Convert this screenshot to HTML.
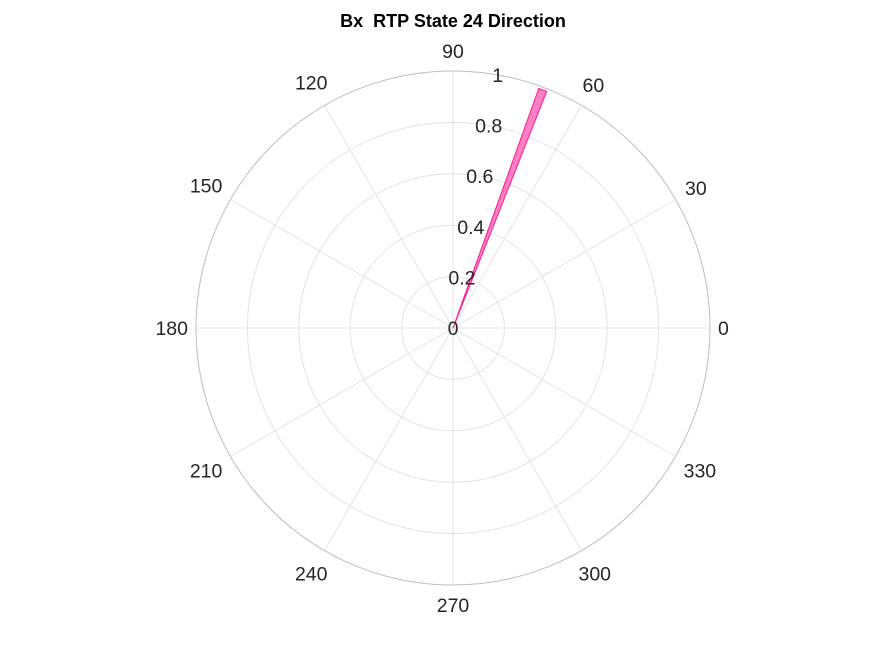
<!DOCTYPE html>
<html><head><meta charset="utf-8"><style>
body{margin:0;background:#fff;font-family:"Liberation Sans",Arial,sans-serif}
svg text{font-family:"Liberation Sans",Arial,sans-serif}
</style></head><body>
<svg id="chart" width="875" height="656" xmlns="http://www.w3.org/2000/svg">
<rect width="875" height="656" fill="#fff"/>
<text x="453" y="27" text-anchor="middle" font-size="18" font-weight="bold" fill="#000">Bx&#160; RTP State 24 Direction</text>
<g id="grid"></g><g id="bars"></g><g id="labels"></g>
</svg>
<script>
const angleTicks=[0,30,60,90,120,150,180,210,240,270,300,330];
const radialTicks=[0,0.2,0.4,0.6,0.8,1];
const binEdgesStart=[68.4];
const binEdgesEnd=[70.3];
const binValues=[0.99];
const cx=453,cy=328,R=257,rMax=1,FS=19.5;
const ns="http://www.w3.org/2000/svg";
function rs(v){return v/rMax*R;}
function pt(v,deg){const a=deg*Math.PI/180;return [cx+rs(v)*Math.cos(a),cy-rs(v)*Math.sin(a)];}
function mk(tag,attrs,parent){const e=document.createElementNS(ns,tag);for(const k in attrs)e.setAttribute(k,attrs[k]);parent.appendChild(e);return e;}
const grid=document.getElementById('grid'),bars=document.getElementById('bars'),labels=document.getElementById('labels');
radialTicks.forEach(v=>{if(v===0)return;
 const c=mk('circle',{cx:cx,cy:cy,r:rs(v),fill:'none',stroke:v===rMax?'#bdbdbd':'#e3e3e3','stroke-width':1},grid);
 
 
});
angleTicks.forEach(d=>{const p=pt(rMax,d);
 const l=mk('line',{x1:cx,y1:cy,x2:p[0],y2:p[1],stroke:'#e3e3e3','stroke-width':1},grid);
 
 
 const a=d*Math.PI/180;
 const w=String(d).length*0.556*FS;
 const off=R+8+Math.abs(Math.cos(a))*w/2+Math.abs(Math.sin(a))*12;
 const x=cx+off*Math.cos(a),y=cy-off*Math.sin(a);
 const t=mk('text',{x:x,y:y+7,'text-anchor':'middle','font-size':FS,fill:'#262626'},labels);
 t.textContent=d;
 
 
});
binValues.forEach((v,i)=>{const a=pt(v,binEdgesStart[i]),b=pt(v,binEdgesEnd[i]);
 const p=mk('path',{d:`M${cx},${cy} L${a[0]},${a[1]} A${rs(v)},${rs(v)} 0 0 0 ${b[0]},${b[1]} Z`,fill:'#ff80c0',stroke:'#ff1493','stroke-width':1},bars);
 
 
});
radialTicks.forEach(v=>{const p=pt(v,80);
 const t=mk('text',{x:p[0],y:p[1]+7,'text-anchor':'middle','font-size':FS,fill:'#262626'},labels);
 t.textContent=String(v);
 
 
});
</script>
</body></html>
